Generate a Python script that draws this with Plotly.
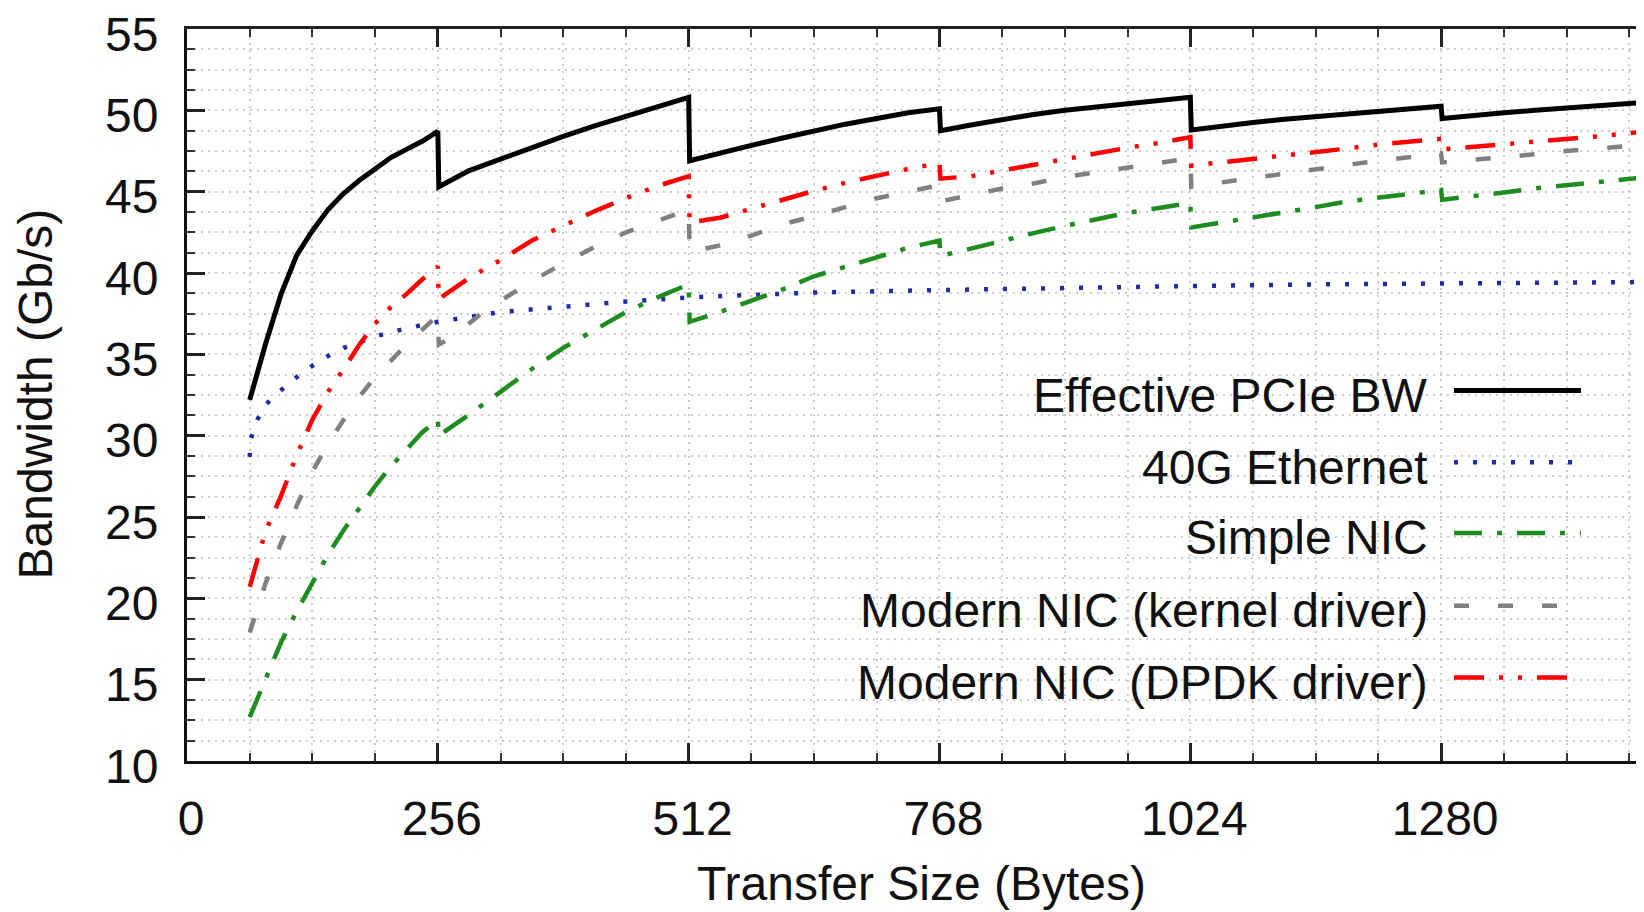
import plotly.graph_objects as go

# ---------------- data ----------------
pcie_x = [64, 72, 80, 96, 112, 128, 144, 160, 176, 192, 208, 224, 240, 256, 257,
          288, 320, 352, 384, 416, 448, 480, 512, 513, 544, 576, 608, 640, 672, 704,
          736, 768, 769, 800, 832, 864, 896, 928, 960, 992, 1024, 1025, 1056, 1088,
          1120, 1152, 1184, 1216, 1248, 1280, 1281, 1312, 1344, 1376, 1408, 1440, 1472, 1500]
pcie_y = [32.2, 33.9, 35.6, 38.7, 41.1, 42.6, 43.9, 44.9, 45.7, 46.4, 47.1, 47.6, 48.1, 48.7, 45.3,
          46.3, 47.0, 47.75, 48.4, 49.05, 49.65, 50.2, 50.8, 46.9, 47.4, 47.85, 48.3, 48.75, 49.15, 49.5,
          49.85, 50.1, 48.75, 49.1, 49.45, 49.75, 50.0, 50.2, 50.4, 50.6, 50.8, 48.8, 49.05, 49.25,
          49.45, 49.6, 49.8, 49.95, 50.1, 50.25, 49.5, 49.7, 49.85, 50.0, 50.15, 50.3, 50.45, 50.55]

eth_x = [64, 65, 72, 80, 96, 112, 128, 144, 160, 192, 224, 256, 320, 384, 448, 512,
         640, 768, 896, 1024, 1152, 1280, 1408, 1500]
eth_y = [28.7, 29.8, 31.0, 31.9, 32.8, 33.6, 34.3, 34.9, 35.4, 36.1, 36.6, 37.0, 37.6, 37.95, 38.25, 38.5,
         38.8, 38.95, 39.1, 39.2, 39.3, 39.35, 39.4, 39.45]

simple_x = [64, 80, 96, 112, 128, 144, 160, 176, 192, 208, 224, 240, 256, 257, 288, 320, 352,
            384, 416, 448, 480, 512, 513, 544, 576, 608, 640, 672, 704, 736, 768, 769, 800,
            832, 864, 896, 928, 960, 992, 1024, 1025, 1056, 1088, 1120, 1152, 1184, 1216,
            1248, 1280, 1281, 1312, 1344, 1376, 1408, 1440, 1472, 1500]
simple_y = [12.7, 15.0, 17.3, 19.2, 21.0, 22.7, 24.2, 25.6, 26.9, 28.1, 29.2, 30.2, 31.0, 30.0, 31.3, 32.7, 34.1,
            35.4, 36.5, 37.6, 38.5, 39.3, 37.0, 37.6, 38.3, 39.0, 39.8, 40.4, 41.0, 41.55, 42.0, 41.05, 41.5,
            42.0, 42.45, 42.9, 43.3, 43.7, 44.0, 44.3, 42.8, 43.1, 43.4, 43.75, 44.05, 44.4, 44.65,
            44.9, 45.1, 44.5, 44.7, 44.95, 45.2, 45.4, 45.6, 45.8, 45.95]

kernel_x = [64, 80, 96, 112, 128, 144, 160, 176, 192, 208, 224, 240, 256, 257, 272, 288, 304, 320,
            352, 384, 416, 448, 480, 512, 513, 544, 576, 608, 640, 672, 704, 736, 768, 769, 800,
            832, 864, 896, 928, 960, 992, 1024, 1025, 1056, 1088, 1120, 1152, 1184, 1216, 1248,
            1280, 1281, 1312, 1344, 1376, 1408, 1440, 1472, 1500]
kernel_y = [17.9, 20.9, 23.4, 25.7, 27.8, 29.5, 31.0, 32.4, 33.6, 34.6, 35.6, 36.5, 37.4, 35.6, 36.1, 36.9, 37.7, 38.3,
            39.5, 40.6, 41.6, 42.5, 43.2, 43.9, 41.3, 41.7, 42.3, 43.0, 43.5, 44.05, 44.6, 45.0, 45.4, 44.4, 44.8,
            45.2, 45.5, 45.9, 46.2, 46.5, 46.8, 47.05, 45.3, 45.6, 45.85, 46.1, 46.4, 46.65, 46.9, 47.1,
            47.35, 46.8, 46.95, 47.1, 47.3, 47.5, 47.65, 47.8, 47.95]

dpdk_x = [64, 72, 80, 96, 112, 128, 144, 160, 176, 192, 208, 224, 240, 256, 257, 288, 320, 352,
          384, 416, 448, 480, 512, 513, 544, 576, 608, 640, 672, 704, 736, 768, 769, 800, 832,
          864, 896, 928, 960, 992, 1024, 1025, 1056, 1088, 1120, 1152, 1184, 1216, 1248, 1280,
          1281, 1312, 1344, 1376, 1408, 1440, 1472, 1500]
dpdk_y = [20.7, 22.4, 24.1, 26.3, 28.8, 31.0, 32.7, 34.1, 35.6, 36.9, 37.9, 38.7, 39.6, 40.4, 38.4, 39.7, 40.8, 42.0,
          42.9, 43.8, 44.6, 45.35, 45.95, 43.1, 43.4, 43.95, 44.55, 45.05, 45.55, 46.0, 46.4, 46.75, 45.8, 45.95, 46.3,
          46.7, 47.0, 47.35, 47.7, 48.0, 48.35, 46.6, 46.8, 47.0, 47.2, 47.45, 47.65, 47.9, 48.05, 48.25,
          47.6, 47.75, 47.95, 48.1, 48.25, 48.4, 48.6, 48.75]

series_names = ["Effective PCIe BW", "40G Ethernet", "Simple NIC",
                "Modern NIC (kernel driver)", "Modern NIC (DPDK driver)"]
x_tick_vals = [0, 256, 512, 768, 1024, 1280]
y_tick_vals = [10, 15, 20, 25, 30, 35, 40, 45, 50, 55]
x_title = "Transfer Size (Bytes)"
y_title = "Bandwidth (Gb/s)"

# ---------------- styles ----------------
FONT = "Liberation Sans, Arial, sans-serif"
TXT = "#111111"
colors = ["#000000", "#1f2aa6", "#1e8c1e", "#808080", "#ff0000"]
dashes = ["solid", "4px,15px", "28px,15px,5px,15px", "15px,29px", "30px,15px,4px,15px,4px,15px"]
widths = [5, 4.5, 4.5, 4.5, 4.5]

# the page body has an 8px margin: the figure is drawn 8px right/down of the window corner
OFF = 8
W, H = 1644 - OFF, 912 - OFF
L, R, T, B = 187 - OFF, W, 16 - OFF, 761 - OFF
XMAX = (1644 - 186.7) / 0.98

def px(page_x):
    return (page_x - OFF - L) / (R - L)

def py(page_y):
    return (B - (page_y - OFF)) / (B - T)

fig = go.Figure()
data = [(pcie_x, pcie_y), (eth_x, eth_y), (simple_x, simple_y), (kernel_x, kernel_y), (dpdk_x, dpdk_y)]
for (xs, ys), name, c, d, w in zip(data, series_names, colors, dashes, widths):
    fig.add_trace(go.Scatter(x=xs, y=ys, mode="lines", name=name, showlegend=False,
                             line=dict(color=c, width=w, dash=d), hoverinfo="skip"))

# dummy trace so the top (mirrored) axis is drawn
fig.add_trace(go.Scatter(x=[None], y=[None], xaxis="x2", yaxis="y", showlegend=False, hoverinfo="skip"))

grid = dict(showgrid=True, gridcolor="#cccccc", gridwidth=1.5, griddash="2px,5px")
minor_grid = dict(showgrid=True, gridcolor="#cccccc", gridwidth=1.5, griddash="2px,5px")

fig.update_layout(
    width=W, height=H,
    margin=dict(l=L, r=W - R, t=T, b=H - B, pad=0),
    paper_bgcolor="white", plot_bgcolor="white",
    font=dict(family=FONT, size=48, color=TXT),
    xaxis=dict(range=[0, XMAX], tickvals=x_tick_vals, ticktext=[str(v) for v in x_tick_vals],
               ticks="inside", ticklen=18, tickwidth=2.5, tickcolor="#222",
               showline=True, linewidth=3, linecolor="#111", mirror=False, zeroline=False,
               tickfont=dict(size=48, color=TXT, family=FONT),
               ticklabelstandoff=13, ticklabelshift=4, ticklabeloverflow="allow",
               minor=dict(dtick=64, tick0=0, ticks="inside", ticklen=8, tickwidth=2, tickcolor="#333",
                          **minor_grid),
               **grid),
    xaxis2=dict(range=[0, XMAX], overlaying="x", side="top", anchor="y",
                tickvals=x_tick_vals, ticks="inside", ticklen=18, tickwidth=2.5, tickcolor="#222",
                showticklabels=False, showline=True, linewidth=3, linecolor="#222",
                showgrid=False, zeroline=False,
                minor=dict(dtick=64, tick0=0, ticks="inside", ticklen=8, tickwidth=2, tickcolor="#333",
                           showgrid=False)),
    yaxis=dict(range=[10, 55.001], tickvals=y_tick_vals, ticktext=[str(v) for v in y_tick_vals],
               ticks="inside", ticklen=18, tickwidth=2.5, tickcolor="#222",
               showline=True, linewidth=3, linecolor="#111", mirror=False, zeroline=False,
               tickfont=dict(size=48, color=TXT, family=FONT),
               ticklabelstandoff=16, ticklabelshift=5, ticklabeloverflow="allow",
               minor=dict(dtick=1.25, tick0=10, ticks="inside", ticklen=8, tickwidth=2, tickcolor="#333",
                          **minor_grid),
               **grid),
)

# axis titles
fig.add_annotation(text=x_title, xref="paper", yref="paper", x=px(921), y=py(886),
                   xanchor="center", yanchor="middle", showarrow=False,
                   font=dict(size=48, family=FONT, color=TXT))
fig.add_annotation(text=y_title, xref="paper", yref="paper", x=px(36), y=py(388),
                   xanchor="center", yanchor="middle", textangle=-90, showarrow=False,
                   font=dict(size=48, family=FONT, color=TXT))

# manual legend: right-aligned text with sample line on the right
legend_y = [384, 457, 529, 603, 676]
for name, c, d, w, ly in zip(series_names, colors, dashes, widths, legend_y):
    fig.add_annotation(text=name, xref="paper", yref="paper", x=px(1430), y=py(ly + 5),
                       xanchor="right", yanchor="middle", showarrow=False,
                       font=dict(size=48, family=FONT, color=TXT))
    fig.add_shape(type="line", xref="paper", yref="paper", x0=px(1454), x1=px(1581),
                  y0=py(ly), y1=py(ly), line=dict(color=c, width=w, dash=d))

fig.write_html("out.html")
